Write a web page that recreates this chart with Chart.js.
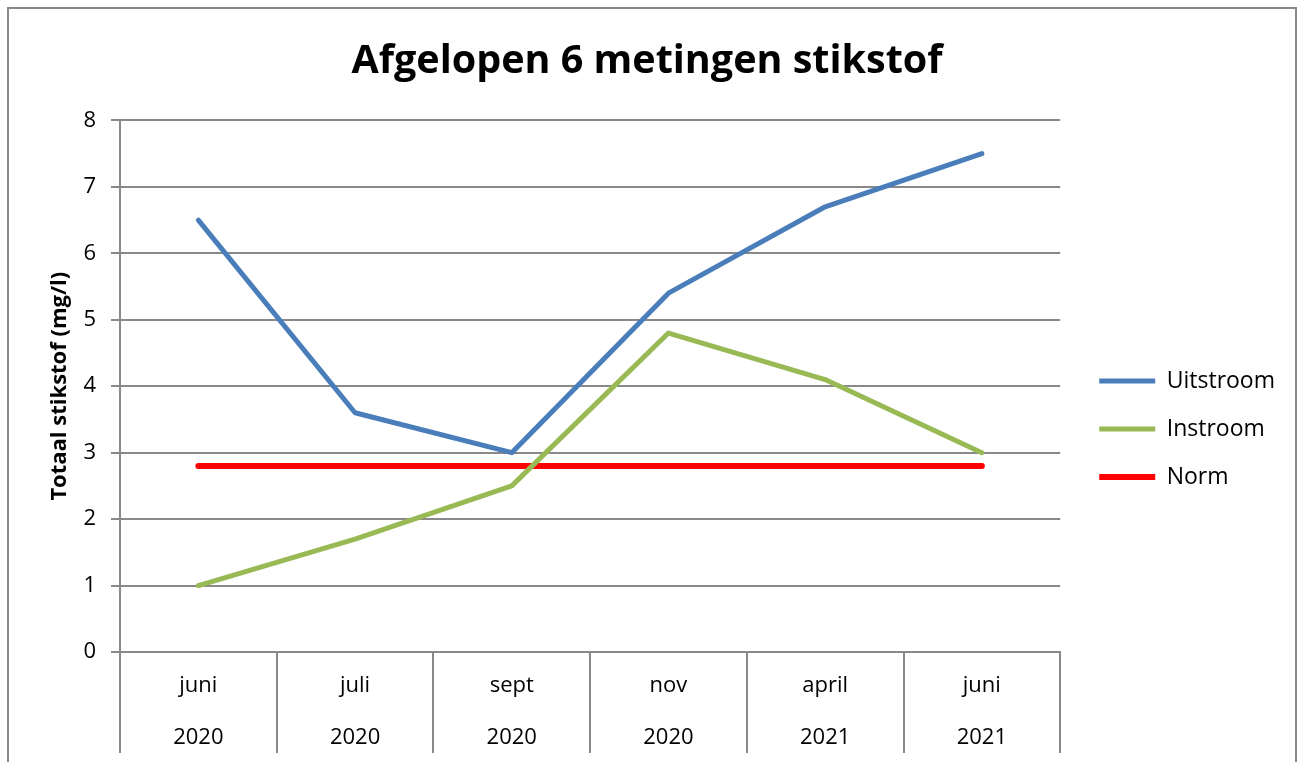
<!DOCTYPE html>
<html>
<head>
<meta charset="utf-8">
<script src="https://cdn.jsdelivr.net/npm/chart.js@4.4.1/dist/chart.umd.min.js"></script>
<style>
  html, body { margin: 0; padding: 0; background: #fff; overflow: hidden; }
  #frame { position: absolute; left: 7px; top: 7px; width: 1286px; height: 840px; border: 2px solid #888; }
  canvas { display: block; }
</style>
</head>
<body>
<div id="frame"><canvas id="chart" width="1286" height="840"></canvas></div>
<script>
const months = [["juni", "2020"], ["juli", "2020"], ["sept", "2020"], ["nov", "2020"], ["april", "2021"], ["juni", "2021"]];
const uitstroom = [6.5, 3.6, 3.0, 5.4, 6.7, 7.5];
const instroom = [1.0, 1.7, 2.5, 4.8, 4.1, 3.0];
const norm = [2.8, 2.8, 2.8, 2.8, 2.8, 2.8];
const yMin = 0;
const yMax = 8;

const font = "'Open Sans', sans-serif";
const gray = "#898989";

const ctx = document.getElementById("chart").getContext("2d");

new Chart(ctx, {
  type: "line",
  data: {
    labels: months,
    datasets: [
      {
        label: "Uitstroom",
        data: uitstroom,
        borderColor: "#4a7ebb",
        backgroundColor: "#4a7ebb",
        borderWidth: 5,
        borderCapStyle: "round",
        borderJoinStyle: "round",
        pointRadius: 0,
        order: 1,
      },
      {
        label: "Instroom",
        data: instroom,
        borderColor: "#98b954",
        backgroundColor: "#98b954",
        borderWidth: 5,
        borderCapStyle: "round",
        borderJoinStyle: "round",
        pointRadius: 0,
        order: 2,
      },
      {
        label: "Norm",
        data: norm,
        borderColor: "#ff0000",
        backgroundColor: "#ff0000",
        borderWidth: 6,
        borderCapStyle: "round",
        pointRadius: 0,
        order: 3,
      },
    ],
  },
  options: {
    responsive: false,
    animation: false,
    devicePixelRatio: 1,
    layout: { padding: { left: 0, top: 0, right: 10, bottom: 0 } },
    plugins: {
      title: {
        display: true,
        text: "Afgelopen 6 metingen stikstof",
        color: "#000",
        font: { family: font, size: 39.5, weight: "bold", lineHeight: 1.2 },
        padding: { top: 29, bottom: 35 },
      },
      legend: {
        position: "right",
        align: "center",
        labels: {
          usePointStyle: true,
          pointStyle: "line",
          pointStyleWidth: 56,
          padding: 25,
          color: "#000",
          font: { family: font, size: 23 },
        },
      },
      tooltip: { enabled: false },
    },
    scales: {
      x: {
        offset: true,
        grid: {
          offset: true,
          drawOnChartArea: false,
          color: gray,
          lineWidth: 2,
          tickLength: 101,
        },
        border: { color: gray, width: 2 },
        ticks: {
          padding: -93,
          maxRotation: 0,
          color: "#000",
          font: { family: font, size: 22, lineHeight: "52px" },
        },
        afterFit: (s) => { s.height = 197; },
      },
      y: {
        min: yMin,
        max: yMax,
        grid: { color: gray, lineWidth: 2, tickLength: 9 },
        border: { color: gray, width: 2 },
        ticks: {
          stepSize: 1,
          padding: 15,
          color: "#000",
          font: { family: font, size: 22 },
        },
        title: {
          display: true,
          text: "Totaal stikstof (mg/l)",
          color: "#000",
          font: { family: font, size: 22, weight: "bold", lineHeight: 1.2 },
          padding: { top: 38, bottom: 0 },
        },
        afterFit: (s) => { s.width = 111; },
      },
      // empty axis, only keeps a gap between the plot and the legend
      pad: {
        type: "linear",
        position: "right",
        grid: { display: false },
        border: { display: false },
        ticks: { display: false },
        afterFit: (s) => { s.width = 14; },
      },
    },
  },
});
</script>
</body>
</html>
